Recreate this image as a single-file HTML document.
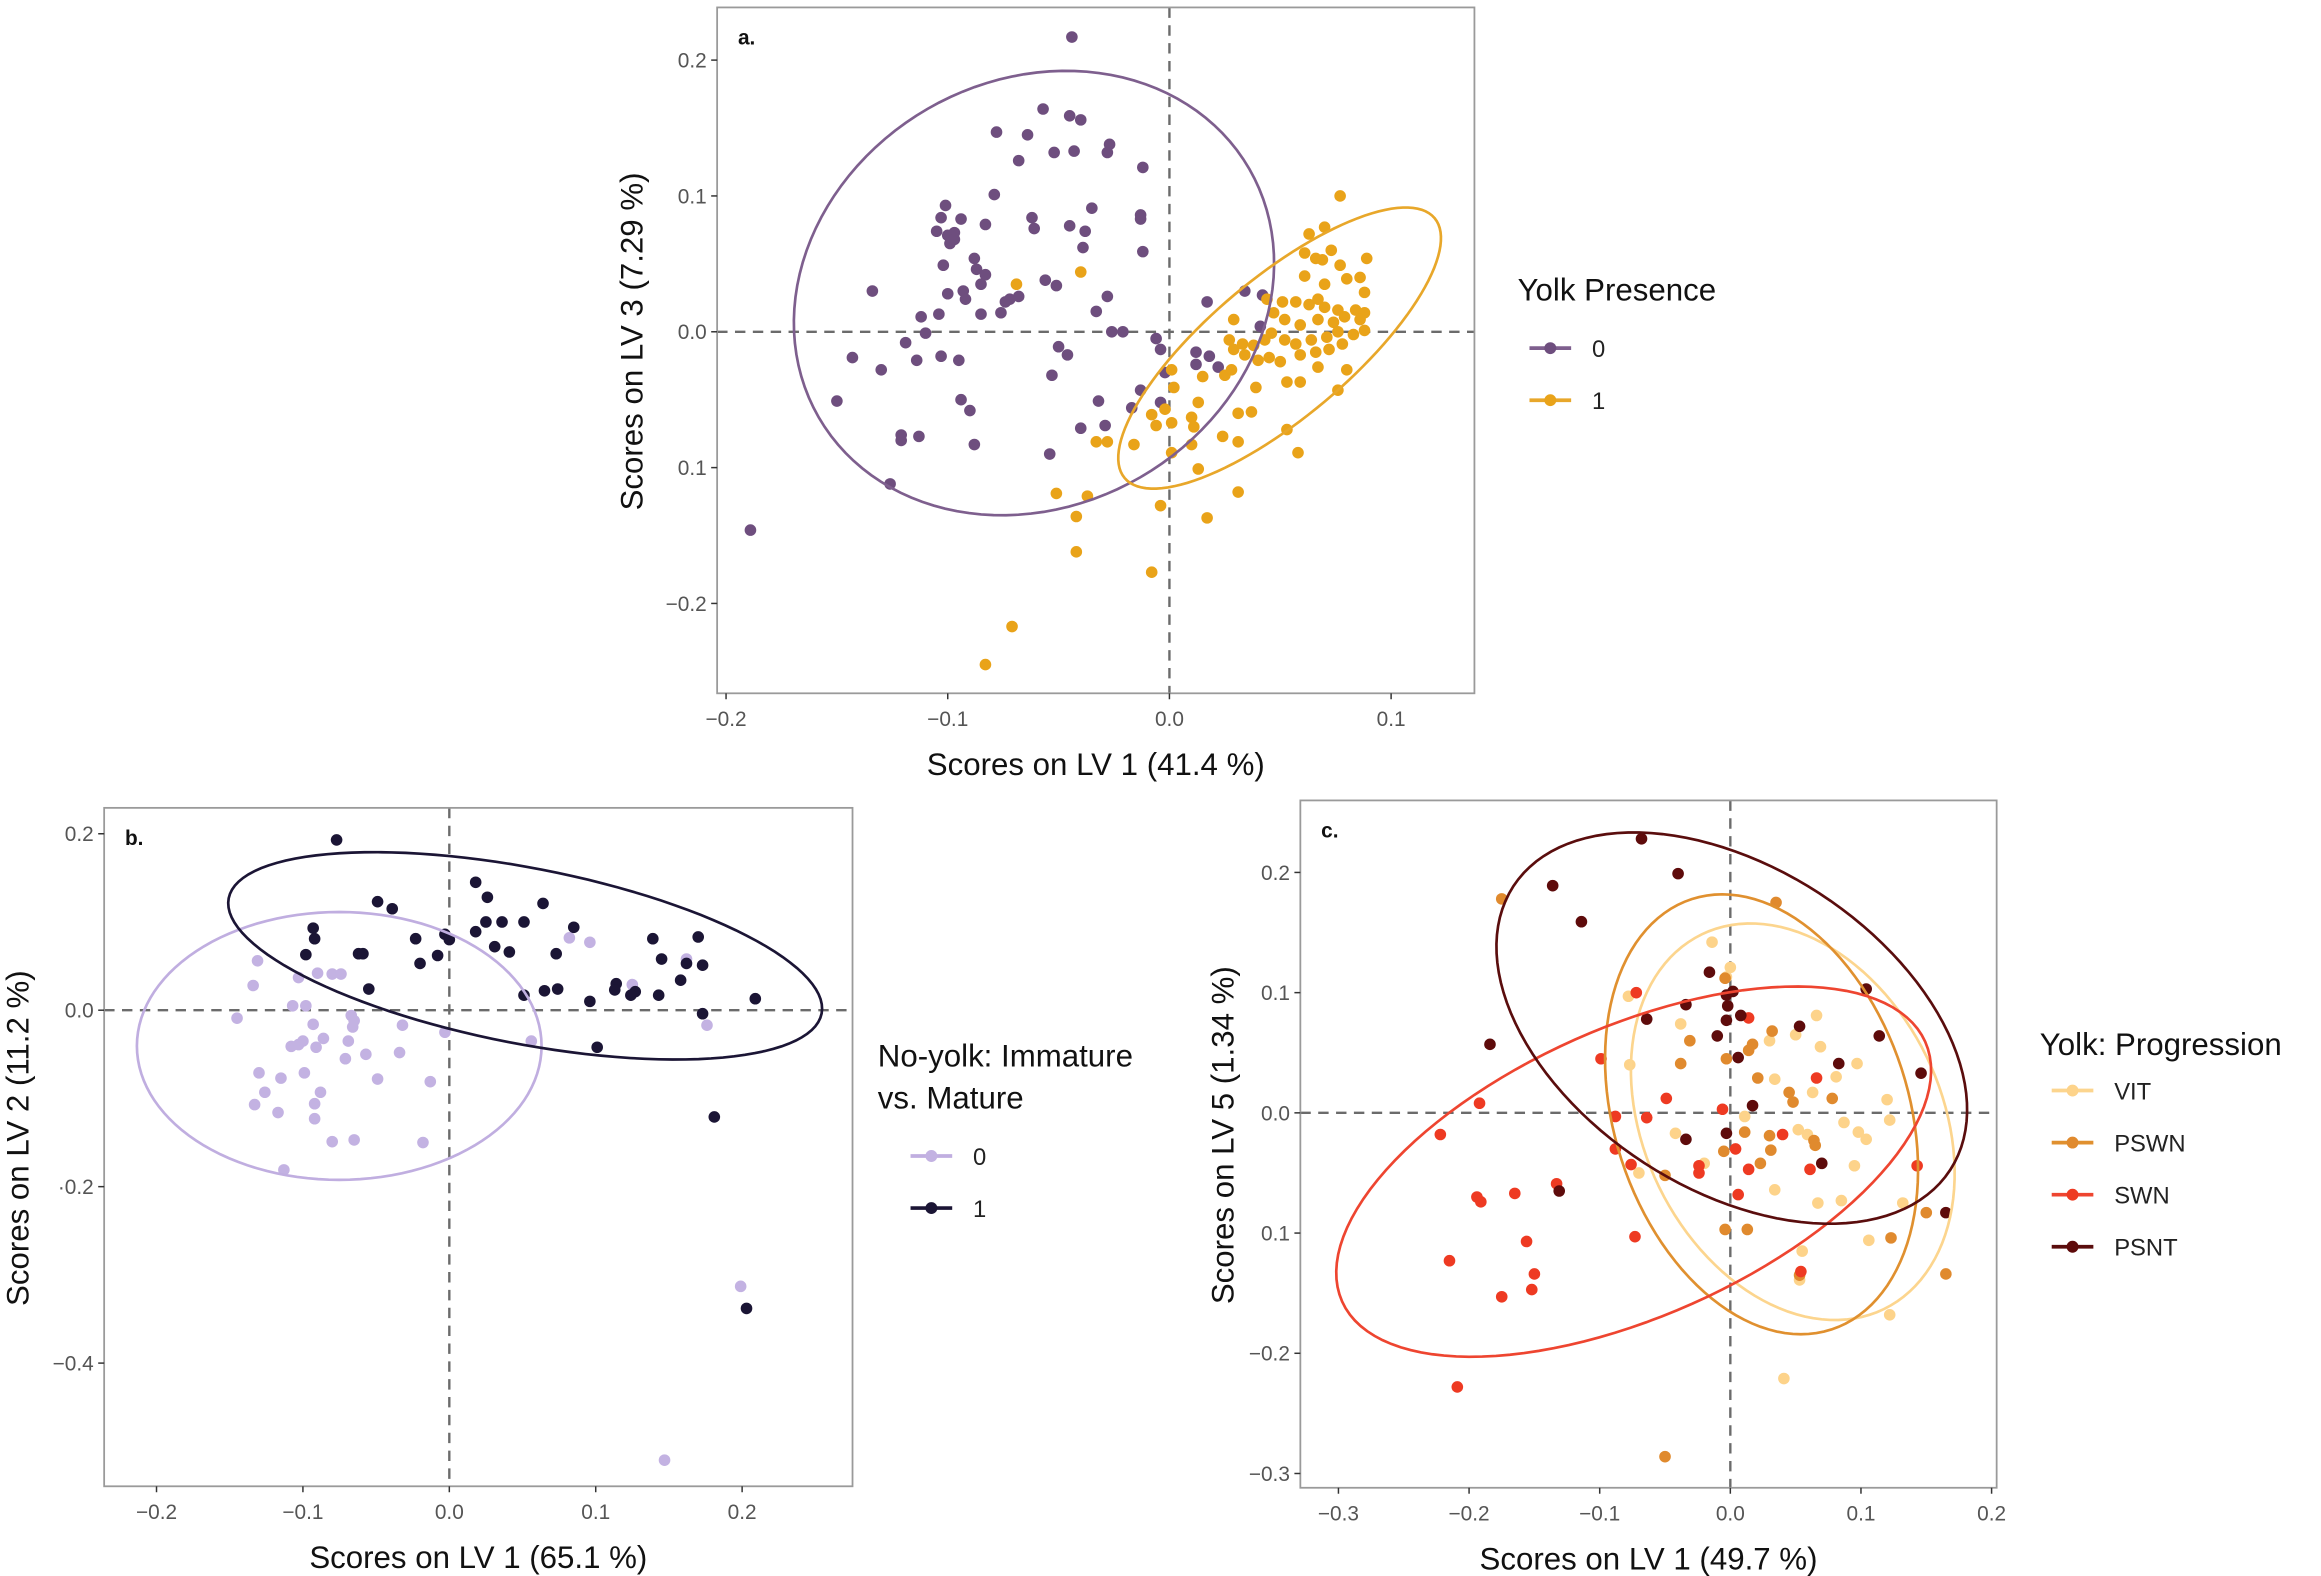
<!DOCTYPE html>
<html><head><meta charset="utf-8"><style>
html,body{margin:0;padding:0;background:#fff;}
svg{display:block;font-family:"Liberation Sans",sans-serif;}
</style></head><body>
<svg id="fig" width="2321" height="1576" viewBox="0 0 1560 1059.3" preserveAspectRatio="none" xmlns="http://www.w3.org/2000/svg"></svg>
<script>
// Panel a data: Yolk presence
const aYolk0 = [[-0.044,0.217],[-0.057,0.164],[-0.045,0.159],[-0.040,0.156],[-0.078,0.147],[-0.064,0.145],[-0.052,0.132],[-0.043,0.133],[-0.027,0.138],[-0.028,0.132],[-0.068,0.126],[-0.012,0.121],[-0.079,0.101],[-0.101,0.093],[-0.103,0.084],[-0.094,0.083],[-0.083,0.079],[-0.062,0.084],[-0.061,0.076],[-0.035,0.091],[-0.013,0.086],[-0.013,0.083],[-0.045,0.078],[-0.038,0.074],[-0.039,0.062],[-0.105,0.074],[-0.100,0.071],[-0.097,0.073],[-0.099,0.065],[-0.097,0.068],[-0.012,0.059],[-0.102,0.049],[-0.088,0.054],[-0.087,0.046],[-0.083,0.042],[-0.085,0.035],[-0.056,0.038],[-0.051,0.034],[-0.134,0.030],[-0.100,0.028],[-0.093,0.030],[-0.092,0.024],[-0.068,0.026],[-0.072,0.024],[-0.074,0.022],[-0.028,0.026],[-0.033,0.015],[-0.085,0.013],[-0.076,0.014],[-0.104,0.013],[-0.112,0.011],[-0.110,-0.001],[-0.026,0.000],[-0.021,0.000],[-0.006,-0.005],[-0.119,-0.008],[-0.143,-0.019],[-0.114,-0.021],[-0.103,-0.018],[-0.095,-0.021],[-0.130,-0.028],[-0.050,-0.011],[-0.046,-0.017],[-0.053,-0.032],[-0.150,-0.051],[-0.094,-0.050],[-0.090,-0.058],[-0.032,-0.051],[-0.017,-0.056],[-0.013,-0.043],[-0.004,-0.052],[-0.040,-0.071],[-0.029,-0.069],[-0.121,-0.076],[-0.113,-0.077],[-0.121,-0.080],[-0.088,-0.083],[-0.054,-0.090],[-0.126,-0.112],[-0.189,-0.146],[0.017,0.022],[0.034,0.030],[0.042,0.027],[0.041,0.004],[0.012,-0.015],[0.018,-0.018],[0.012,-0.024],[0.022,-0.026],[-0.002,-0.030],[-0.004,-0.013]];
const aYolk1 = [[0.077,0.100],[0.070,0.077],[0.063,0.072],[0.073,0.060],[0.061,0.058],[0.066,0.054],[0.069,0.053],[0.077,0.049],[0.089,0.054],[0.086,0.040],[0.080,0.039],[0.061,0.041],[0.070,0.035],[0.088,0.029],[0.044,0.024],[0.051,0.022],[0.057,0.022],[0.063,0.020],[0.067,0.024],[0.070,0.018],[0.076,0.016],[0.084,0.016],[0.088,0.014],[0.086,0.009],[0.079,0.011],[0.074,0.007],[0.067,0.009],[0.059,0.005],[0.052,0.009],[0.047,0.014],[0.088,0.001],[0.083,-0.002],[0.076,0.000],[0.071,-0.004],[0.064,-0.006],[0.057,-0.009],[0.052,-0.006],[0.046,-0.001],[0.043,-0.006],[0.038,-0.010],[0.033,-0.009],[0.027,-0.006],[0.029,0.009],[0.029,-0.013],[0.034,-0.017],[0.040,-0.021],[0.045,-0.019],[0.050,-0.022],[0.059,-0.017],[0.066,-0.015],[0.072,-0.013],[0.078,-0.009],[0.067,-0.026],[0.080,-0.028],[0.053,-0.037],[0.059,-0.037],[0.039,-0.041],[0.025,-0.032],[0.015,-0.033],[0.001,-0.028],[0.002,-0.041],[0.013,-0.052],[0.031,-0.060],[0.037,-0.059],[0.076,-0.043],[-0.008,-0.061],[-0.002,-0.057],[-0.006,-0.069],[0.001,-0.067],[0.010,-0.063],[0.011,-0.070],[-0.016,-0.083],[0.010,-0.083],[0.024,-0.077],[0.031,-0.081],[0.053,-0.072],[0.058,-0.089],[0.001,-0.089],[0.013,-0.101],[0.031,-0.118],[0.017,-0.137],[-0.004,-0.128],[-0.033,-0.081],[-0.028,-0.081],[-0.051,-0.119],[-0.037,-0.121],[-0.042,-0.136],[-0.042,-0.162],[-0.008,-0.177],[-0.071,-0.217],[-0.083,-0.245],[-0.040,0.044],[-0.069,0.035],[0.028,-0.028]];
// ellipse: [centerX, centerY, axis1X, axis1Y, axis2X, axis2Y] in data units
const aEllipse0 = [-0.0611, 0.0285, 0.0971, 0.0915, 0.0480, -0.1356];
const aEllipse1 = [0.0497, -0.0120, 0.0699, 0.0957, 0.0203, -0.0394];
const aXTicks = [-0.2,-0.1,0.0,0.1];
const aXTickLabels = ["\u22120.2","\u22120.1","0.0","0.1"];
const aYTicks = [0.2,0.1,0.0,-0.1,-0.2];
const aYTickLabels = ["0.2","0.1","0.0","0.1","\u22120.2"];

// Panel b data: No-yolk immature vs mature
const bGroup0 = [[-0.131,0.056],[-0.134,0.028],[-0.103,0.037],[-0.090,0.042],[-0.080,0.041],[-0.074,0.041],[-0.107,0.005],[-0.098,0.005],[-0.145,-0.009],[-0.067,-0.006],[-0.065,-0.012],[-0.093,-0.016],[-0.032,-0.017],[-0.066,-0.019],[-0.003,-0.025],[-0.086,-0.032],[-0.100,-0.035],[-0.069,-0.035],[-0.108,-0.041],[-0.103,-0.039],[-0.091,-0.042],[0.056,-0.035],[-0.057,-0.050],[-0.071,-0.055],[-0.034,-0.048],[-0.130,-0.071],[-0.099,-0.071],[-0.115,-0.077],[-0.049,-0.078],[-0.013,-0.081],[-0.126,-0.093],[-0.088,-0.093],[-0.133,-0.107],[-0.092,-0.106],[-0.117,-0.116],[-0.092,-0.123],[-0.080,-0.149],[-0.065,-0.147],[-0.018,-0.150],[-0.113,-0.181],[0.082,0.082],[0.096,0.077],[0.162,0.058],[0.125,0.029],[0.176,-0.017],[0.199,-0.313],[0.147,-0.510]];
const bGroup1 = [[-0.077,0.193],[0.018,0.145],[0.026,0.128],[-0.049,0.123],[-0.039,0.115],[0.064,0.121],[0.025,0.100],[0.036,0.100],[0.051,0.100],[0.085,0.094],[-0.093,0.093],[-0.092,0.081],[-0.023,0.081],[-0.003,0.086],[0.000,0.080],[0.018,0.089],[0.139,0.081],[0.170,0.083],[-0.098,0.063],[-0.062,0.064],[-0.059,0.064],[-0.008,0.062],[-0.020,0.053],[0.031,0.072],[0.041,0.066],[0.073,0.064],[0.145,0.058],[0.162,0.053],[0.173,0.051],[0.158,0.034],[0.114,0.030],[0.113,0.023],[0.127,0.021],[0.124,0.017],[0.143,0.017],[0.051,0.017],[0.065,0.022],[0.074,0.024],[0.096,0.010],[0.209,0.013],[0.173,-0.004],[0.101,-0.042],[0.181,-0.121],[0.203,-0.338],[-0.055,0.024]];
const bEllipse0 = [-0.0752, -0.0405, 0.1382, 0.0, 0.0, -0.1518];
const bEllipse1 = [0.0518, 0.0616, 0.2025, -0.0653, -0.0115, -0.0977];
const bXTicks = [-0.2,-0.1,0.0,0.1,0.2];
const bXTickLabels = ["\u22120.2","\u22120.1","0.0","0.1","0.2"];
const bYTicks = [0.2,0.0,-0.2,-0.4];
const bYTickLabels = ["0.2","0.0","\u00b70.2","\u22120.4"];

// Panel c data: Yolk progression
const cVIT = [[-0.014,0.142],[0.000,0.121],[-0.003,0.113],[-0.078,0.097],[-0.038,0.074],[0.066,0.081],[0.050,0.065],[0.069,0.055],[-0.077,0.040],[0.097,0.041],[0.034,0.028],[0.063,0.017],[0.081,0.030],[0.120,0.011],[0.011,-0.003],[-0.042,-0.017],[0.052,-0.014],[0.059,-0.018],[0.087,-0.008],[0.098,-0.016],[0.104,-0.022],[0.122,-0.006],[-0.020,-0.042],[-0.070,-0.050],[0.034,-0.064],[0.095,-0.044],[0.067,-0.075],[0.085,-0.073],[0.132,-0.075],[0.106,-0.106],[0.055,-0.115],[0.053,-0.139],[0.122,-0.168],[0.041,-0.221],[0.030,0.060]];
const cPSWN = [[-0.175,0.178],[0.035,0.175],[-0.004,0.112],[-0.031,0.060],[-0.038,0.041],[-0.003,0.045],[0.014,0.052],[0.017,0.057],[0.032,0.068],[0.021,0.029],[0.045,0.017],[0.048,0.009],[0.078,0.012],[0.011,-0.016],[0.030,-0.019],[0.064,-0.023],[0.065,-0.027],[0.031,-0.031],[-0.005,-0.032],[0.023,-0.042],[-0.050,-0.052],[-0.004,-0.097],[0.013,-0.097],[0.123,-0.104],[0.150,-0.083],[0.165,-0.134],[-0.050,-0.286],[0.053,-0.135]];
const cSWN = [[-0.072,0.100],[0.014,0.079],[-0.099,0.045],[0.066,0.029],[-0.049,0.012],[-0.192,0.008],[-0.006,0.003],[-0.088,-0.003],[-0.064,-0.004],[-0.222,-0.018],[0.040,-0.018],[0.004,-0.030],[-0.088,-0.030],[-0.076,-0.043],[-0.024,-0.044],[-0.024,-0.050],[0.014,-0.047],[0.061,-0.047],[0.143,-0.044],[-0.133,-0.059],[0.006,-0.068],[-0.194,-0.070],[-0.191,-0.074],[-0.165,-0.067],[-0.073,-0.103],[-0.156,-0.107],[-0.215,-0.123],[-0.150,-0.134],[-0.152,-0.147],[-0.175,-0.153],[0.054,-0.132],[-0.209,-0.228]];
const cPSNT = [[-0.068,0.228],[-0.040,0.199],[-0.136,0.189],[-0.114,0.159],[-0.016,0.117],[-0.003,0.098],[0.002,0.101],[-0.002,0.089],[-0.034,0.090],[-0.064,0.078],[-0.003,0.077],[0.008,0.081],[-0.010,0.064],[0.006,0.046],[0.053,0.072],[0.104,0.103],[0.114,0.064],[0.083,0.041],[0.146,0.033],[-0.184,0.057],[0.017,0.006],[-0.003,-0.017],[-0.034,-0.022],[0.070,-0.042],[-0.131,-0.065],[0.165,-0.083]];
const cEllipseVIT = [0.0478, -0.0074, 0.0698, -0.1558, -0.1024, -0.0542];
const cEllipsePSWN = [0.0239, -0.0012, 0.0535, -0.1790, -0.1072, -0.0379];
const cEllipseSWN = [-0.0740, -0.0489, 0.2232, 0.1080, 0.0450, -0.1098];
const cEllipsePSNT = [0.0011, 0.0705, 0.1672, -0.1180, -0.0671, -0.1121];
const cXTicks = [-0.3,-0.2,-0.1,0.0,0.1,0.2];
const cXTickLabels = ["\u22120.3","\u22120.2","\u22120.1","0.0","0.1","0.2"];
const cYTicks = [0.2,0.1,0.0,-0.1,-0.2,-0.3];
const cYTickLabels = ["0.2","0.1","0.0","0.1","\u22120.2","\u22120.3"];

const NS = "http://www.w3.org/2000/svg";
const fig = document.getElementById('fig');
function mk(tag, parent, attrs){
  const e = document.createElementNS(NS, tag);
  for (const k in attrs) e.setAttribute(k, attrs[k]);
  parent.appendChild(e);
  return e;
}
function ellipsePath(E, sx, sy){
  let d = "";
  for (let i=0;i<=120;i++){
    const t = i/120*2*Math.PI, u=Math.cos(t), v=Math.sin(t);
    const x = E[0] + E[2]*u + E[4]*v, y = E[1] + E[3]*u + E[5]*v;
    d += (i?"L":"M") + sx(x).toFixed(2) + "," + sy(y).toFixed(2);
  }
  return d + "Z";
}

function panel(cfg){
  const g = mk('g', fig, {});
  
  
  const sx = x => cfg.x0 + x*cfg.kx;
  const sy = y => cfg.y0 - y*cfg.ky;
  const [L,T,R,B] = cfg.box;
  const clipId = cfg.name + '-clip';
  const cp = mk('clipPath', g, {id: clipId});
  mk('rect', cp, {x:L, y:T, width:R-L, height:B-T});
  const bg = mk('rect', g, {x:L, y:T, width:R-L, height:B-T, fill:'#fff', stroke:'none'});
  
  
  const inner = mk('g', g, {'clip-path': 'url(#' + clipId + ')'});
  const vz = mk('line', inner, {x1:sx(0), x2:sx(0), y1:T, y2:B, stroke:'#6b6b6b', 'stroke-width':1.6, 'stroke-dasharray':'7,5'});
  
  
  const hz = mk('line', inner, {x1:L, x2:R, y1:sy(0), y2:sy(0), stroke:'#6b6b6b', 'stroke-width':1.6, 'stroke-dasharray':'7,5'});
  
  
  cfg.series.forEach(s=>{
    const sg = mk('g', inner, {});
    
    
    s.data.forEach(p=>{
      const c = mk('circle', sg, {cx:sx(p[0]), cy:sy(p[1]), r:3.9, fill:s.color});
      
      
    });
  });
  cfg.series.forEach(s=>{
    const e = mk('path', inner, {d: ellipsePath(s.ell, sx, sy), fill:'none', stroke:s.ecolor || s.color, 'stroke-width':1.8});
    
    
  });
  const frame = mk('rect', g, {x:L, y:T, width:R-L, height:B-T, fill:'none', stroke:'#9a9a9a', 'stroke-width':1.2});
  
  
  cfg.xt.forEach((v,i)=>{
    mk('line', g, {x1:sx(v), x2:sx(v), y1:B, y2:B+4, stroke:'#333', 'stroke-width':1});
    const t = mk('text', g, {x:sx(v), y:B+22, 'text-anchor':'middle', 'font-size':14, fill:'#555'});
    t.textContent = cfg.xl[i];
    
    
  });
  cfg.yt.forEach((v,i)=>{
    mk('line', g, {x1:L-4, x2:L, y1:sy(v), y2:sy(v), stroke:'#333', 'stroke-width':1});
    const t = mk('text', g, {x:L-7, y:sy(v)+5, 'text-anchor':'end', 'font-size':14, fill:'#555'});
    t.textContent = cfg.yl[i];
    
    
  });
  const tag = mk('text', g, {x:L+14, y:T+25, 'font-size':14, 'font-weight':'bold', fill:'#111'});
  tag.textContent = cfg.tag;
  
  
  const xt = mk('text', g, {x:(L+R)/2, y:B+55, 'text-anchor':'middle', 'font-size':21, fill:'#111'});
  xt.textContent = cfg.xtitle;
  
  
  const yx = cfg.ytx, yy = (T+B)/2 - 6;
  const yt = mk('text', g, {x:yx, y:yy, 'text-anchor':'middle', 'font-size':21, fill:'#111', transform:'rotate(-90 '+yx+' '+yy+')'});
  yt.textContent = cfg.ytitle;
  
  
  const lg = mk('g', g, {});
  
  
  cfg.legTitle.forEach((line,i)=>{
    const t = mk('text', lg, {x:cfg.legX, y:cfg.legY + i*28, 'font-size':21, fill:'#111'});
    t.textContent = line;
    
    
  });
  const baseY = cfg.legY + (cfg.legTitle.length-1)*28 + cfg.legGap;
  cfg.series.forEach((s,i)=>{
    const y = baseY + i*35;
    const kx = cfg.legX + cfg.keyOff;
    const e = mk('g', lg, {});
    
    
    mk('line', e, {x1:kx, x2:kx+28, y1:y, y2:y, stroke:s.ecolor||s.color, 'stroke-width':2.5});
    mk('circle', e, {cx:kx+14, cy:y, r:4, fill:s.color});
    const t = mk('text', e, {x:kx+42, y:y+6, 'font-size':16, fill:'#222'});
    t.textContent = s.label;
  });
}

panel({name:'panel-a', tag:'a.', x0:786, kx:1490, y0:223, ky:913, box:[482,5,991,466],
  xt:aXTicks, xl:aXTickLabels, yt:aYTicks, yl:aYTickLabels,
  xtitle:'Scores on LV 1 (41.4 %)', ytitle:'Scores on LV 3 (7.29 %)', ytx:432,
  legTitle:['Yolk Presence'], legX:1020, legY:202, legGap:32, keyOff:8,
  series:[{key:'yolk-0', label:'0', color:'#6e4e7e', ecolor:'#7e5f8e', data:aYolk0, ell:aEllipse0},
          {key:'yolk-1', label:'1', color:'#e9a319', ecolor:'#e8a72a', data:aYolk1, ell:aEllipse1}]});

panel({name:'panel-b', tag:'b.', x0:302, kx:984, y0:679, ky:593, box:[70,543,573,999],
  xt:bXTicks, xl:bXTickLabels, yt:bYTicks, yl:bYTickLabels,
  xtitle:'Scores on LV 1 (65.1 %)', ytitle:'Scores on LV 2 (11.2 %)', ytx:19,
  legTitle:['No-yolk: Immature','vs. Mature'], legX:590, legY:717, legGap:32, keyOff:22,
  series:[{key:'immature-0', label:'0', color:'#c3b2e2', ecolor:'#c0aee0', data:bGroup0, ell:bEllipse0},
          {key:'mature-1', label:'1', color:'#1b1535', ecolor:'#1b1535', data:bGroup1, ell:bEllipse1}]});

panel({name:'panel-c', tag:'c.', x0:1163, kx:878, y0:748, ky:808, box:[874,538,1342,1000],
  xt:cXTicks, xl:cXTickLabels, yt:cYTicks, yl:cYTickLabels,
  xtitle:'Scores on LV 1 (49.7 %)', ytitle:'Scores on LV 5 (1.34 %)', ytx:829,
  legTitle:['Yolk: Progression'], legX:1371, legY:709, legGap:24, keyOff:8,
  series:[{key:'vit', label:'VIT', color:'#fdd38a', ecolor:'#fcd58e', data:cVIT, ell:cEllipseVIT},
          {key:'pswn', label:'PSWN', color:'#e08a2e', ecolor:'#e0902f', data:cPSWN, ell:cEllipsePSWN},
          {key:'swn', label:'SWN', color:'#ee3a22', ecolor:'#ee4530', data:cSWN, ell:cEllipseSWN},
          {key:'psnt', label:'PSNT', color:'#5e0b0b', ecolor:'#5a0d0d', data:cPSNT, ell:cEllipsePSNT}]});
</script>
</body></html>
